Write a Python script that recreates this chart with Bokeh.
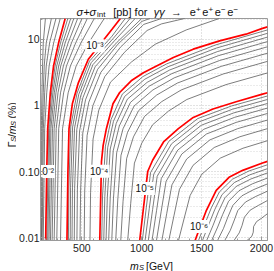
import math
from bokeh.plotting import figure
from bokeh.models import Range1d, FixedTicker
from bokeh.layouts import column, row
from bokeh.embed import file_html
from bokeh.resources import INLINE
from bokeh.core.properties import value

FONT = "Liberation Sans"

# ---------------- data ----------------
x_ticks = [500, 1000, 1500, 2000]
x_tick_labels = ["500", "1000", "1500", "2000"]
y_ticks = [0.01, 0.1, 1, 10]
y_tick_labels = ["0.01", "0.10", "1", "10"]

# red contours: 1e-2, 1e-3, 1e-4, 1e-5, 1e-6 pb   (m_S in GeV, Gamma/m in %)
red_m = [
    [198, 207, 215, 237, 264, 306, 361],
    [376, 384, 393, 421, 471, 554, 612, 683, 752, 822],
    [650, 664, 678, 705, 760, 816, 912, 1014, 1099, 1264, 1430, 1650, 1870, 2008, 2050],
    [983, 1050, 1091, 1182, 1306, 1430, 1595, 1788, 2008, 2050],
    [1446, 1457, 1540, 1622, 1733, 1843, 2008, 2050],
]
red_g = [
    [0.00904, 0.1, 0.445, 1.555, 3.98, 8.87, 20.7],
    [0.00904, 0.1, 0.445, 1.06, 2.2, 5.0, 6.8, 9.86, 14.2, 20.7],
    [0.00904, 0.141, 0.249, 0.445, 1.06, 1.57, 2.36, 3.12, 3.75, 5.31, 7.11, 9.49, 11.98, 14.66, 15.45],
    [0.00904, 0.1, 0.148, 0.28, 0.445, 0.659, 0.882, 1.137, 1.487, 1.555],
    [0.00904, 0.0103, 0.0259, 0.052, 0.0829, 0.1042, 0.1349, 0.1426],
]

# black contours 2..5 x 1e-2 (shared Gamma rows)
f0_g = [0.00904, 0.445, 1.555, 3.98, 8.87, 20.7]
f0_m = [
    [178, 190, 207, 227, 265, 320],
    [169, 179, 190, 203, 231, 284],
    [163, 170, 178, 186, 203, 246],
    [157, 162, 167, 172, 178, 196],
]
# black contours 2..9 x 1e-3 (shared Gamma rows)
f1_g = [0.00904, 0.445, 1.555, 3.98, 8.87, 20.7]
f1_m = [
    [322, 339, 386, 453, 557, 687],
    [291, 307, 348, 405, 493, 604],
    [269, 286, 322, 372, 449, 546],
    [252, 269, 301, 346, 414, 501],
    [238, 255, 284, 324, 386, 465],
    [226, 242, 270, 307, 361, 433],
    [216, 232, 258, 291, 341, 407],
    [207, 223, 247, 277, 322, 383],
]
# black contours 2..9 x 1e-4
f2_m = [
    [568, 573, 594, 642, 739, 915, 1112, 1372, 1647],
    [520, 524, 544, 593, 692, 855, 1045, 1165, 1358],
    [485, 490, 508, 558, 658, 822, 1017, 1165],
    [459, 463, 481, 531, 632, 802, 1002, 1069],
    [437, 440, 458, 509, 611, 792, 1000],
    [418, 422, 439, 490, 593, 777, 945],
    [403, 406, 423, 474, 578, 764, 903],
    [388, 392, 408, 460, 564, 752, 862],
]
f2_g = [
    [0.00904, 0.0478, 0.311, 0.852, 2.25, 4.56, 8.43, 13.9, 20.7],
    [0.00904, 0.0505, 0.351, 0.999, 2.74, 6.35, 13.64, 17.15, 20.7],
    [0.00904, 0.0525, 0.383, 1.117, 3.16, 7.59, 16.85, 20.7],
    [0.00904, 0.0541, 0.409, 1.219, 3.52, 8.48, 18.72, 20.7],
    [0.00904, 0.0555, 0.432, 1.310, 3.85, 8.96, 20.7],
    [0.00904, 0.0566, 0.452, 1.390, 4.15, 9.73, 20.7],
    [0.00904, 0.0577, 0.471, 1.465, 4.44, 10.42, 20.7],
    [0.00904, 0.0586, 0.488, 1.532, 4.69, 11.17, 20.7],
]
# black contours 2..9 x 1e-5
f3_m = [
    [883, 908, 939, 1000, 1091, 1226, 1376, 1704, 2050],
    [825, 844, 874, 931, 1023, 1167, 1330, 1680, 2050],
    [783, 800, 827, 882, 974, 1125, 1297, 1663, 2050],
    [750, 764, 791, 844, 936, 1093, 1272, 1650, 2050],
    [724, 737, 762, 813, 906, 1067, 1252, 1640, 2050],
    [702, 713, 737, 787, 880, 1045, 1234, 1631, 2050],
    [683, 692, 716, 764, 857, 1025, 1219, 1623, 2050],
    [666, 673, 697, 744, 838, 1009, 1206, 1616, 2050],
]
f3_g = [
    [0.00904, 0.0327, 0.134, 0.268, 0.510, 0.828, 1.229, 2.067, 3.107],
    [0.00904, 0.0352, 0.157, 0.335, 0.681, 1.143, 1.718, 2.992, 4.651],
    [0.00904, 0.0370, 0.176, 0.393, 0.835, 1.438, 2.179, 3.901, 6.186],
    [0.00904, 0.0385, 0.192, 0.444, 0.979, 1.716, 2.619, 4.788, 7.730],
    [0.00904, 0.0397, 0.206, 0.490, 1.113, 1.981, 3.035, 5.665, 9.262],
    [0.00904, 0.0408, 0.219, 0.534, 1.243, 2.236, 3.444, 6.525, 10.83],
    [0.00904, 0.0418, 0.231, 0.575, 1.365, 2.490, 3.850, 7.386, 12.36],
    [0.00904, 0.0427, 0.242, 0.612, 1.484, 2.728, 4.241, 8.226, 13.91],
]
# black contours 2..9 x 1e-6
f4_m = [
    [1307, 1355, 1404, 1501, 1656, 1845, 2050],
    [1226, 1270, 1315, 1428, 1605, 1819, 2050],
    [1168, 1209, 1252, 1375, 1569, 1801, 2050],
    [1123, 1162, 1203, 1334, 1540, 1788, 2050],
    [1086, 1124, 1163, 1301, 1518, 1776, 2050],
    [1055, 1091, 1129, 1273, 1498, 1767, 2050],
    [1028, 1063, 1100, 1249, 1482, 1758, 2050],
    [1005, 1038, 1074, 1227, 1467, 1751, 2050],
]
f4_g = [
    [0.00904, 0.0198, 0.0434, 0.0908, 0.1595, 0.2251, 0.2928],
    [0.00904, 0.0218, 0.0538, 0.1238, 0.2310, 0.3357, 0.4460],
    [0.00904, 0.0233, 0.0628, 0.1544, 0.3011, 0.4453, 0.6016],
    [0.00904, 0.0246, 0.0707, 0.1834, 0.3695, 0.5538, 0.7568],
    [0.00904, 0.0257, 0.0779, 0.2111, 0.4361, 0.6617, 0.9133],
    [0.00904, 0.0266, 0.0846, 0.2374, 0.5024, 0.7697, 1.0717],
    [0.00904, 0.0275, 0.0909, 0.2627, 0.5669, 0.8775, 1.2316],
    [0.00904, 0.0283, 0.0967, 0.2877, 0.6318, 0.9838, 1.3913],
]
# black contours 2..9 x 1e-7
f5_m = [
    [1879, 1919, 1931, 1934, 1959, 2000, 2050],
    [1770, 1814, 1837, 1857, 1905, 1972, 2050],
    [1693, 1739, 1770, 1802, 1866, 1952, 2050],
    [1633, 1682, 1718, 1760, 1836, 1936, 2050],
    [1584, 1634, 1676, 1725, 1812, 1924, 2050],
    [1542, 1594, 1639, 1695, 1790, 1913, 2050],
    [1507, 1559, 1609, 1670, 1773, 1904, 2050],
    [1474, 1528, 1581, 1648, 1757, 1895, 2050],
]
f5_g = [
    [0.00904, 0.01047, 0.01204, 0.01471, 0.01748, 0.01964, 0.02304],
    [0.00904, 0.01178, 0.01515, 0.02034, 0.02602, 0.03059, 0.03646],
    [0.00904, 0.01282, 0.01784, 0.02564, 0.03452, 0.04195, 0.05055],
    [0.00904, 0.01368, 0.02021, 0.03060, 0.04288, 0.05343, 0.06495],
    [0.00904, 0.01443, 0.02240, 0.03539, 0.05123, 0.06516, 0.07973],
    [0.00904, 0.01511, 0.02447, 0.04010, 0.05973, 0.07735, 0.09522],
    [0.00904, 0.01570, 0.02637, 0.04460, 0.06801, 0.08935, 0.1105],
    [0.00904, 0.01626, 0.02822, 0.04909, 0.07648, 0.1019, 0.1266],
]

# contour labels
label_text = ["10\u207b\u00b2", "10\u207b\u00b3", "10\u207b\u2074", "10\u207b\u2075", "10\u207b\u2076"]
label_m = [196, 609, 645, 1025, 1479]
label_g = [0.1, 7.98, 0.101, 0.0552, 0.0147]

# ---------------- build ----------------
black_xs, black_ys = [], []
for ms in f0_m:
    black_xs.append(ms); black_ys.append(f0_g)
for ms in f1_m:
    black_xs.append(ms); black_ys.append(f1_g)
for fam_m, fam_g in ((f2_m, f2_g), (f3_m, f3_g), (f4_m, f4_g), (f5_m, f5_g)):
    for ms, gs in zip(fam_m, fam_g):
        black_xs.append(ms); black_ys.append(gs)

TOTAL_W, TOTAL_H = 274, 271
TITLE_H, XLAB_H, YLAB_W = 18, 16, 16
MAIN_W = TOTAL_W - YLAB_W
MAIN_H = TOTAL_H - TITLE_H - XLAB_H

p = figure(width=MAIN_W, height=MAIN_H, x_range=Range1d(155, 2050), y_range=Range1d(0.00904, 20.7),
           y_axis_type="log", output_backend="svg", toolbar_location=None, title=None,
           min_border_left=38 - YLAB_W, min_border_right=7, min_border_top=0, min_border_bottom=15)
p.background_fill_color = "white"
p.border_fill_color = "white"
p.outline_line_color = "#9a9a9a"

x_minor = [v for v in range(200, 2001, 100)]
y_minor = [k * d for d in (0.01, 0.1, 1, 10) for k in range(2, 10) if k * d <= 20.7]
xt = FixedTicker(ticks=x_ticks, minor_ticks=x_minor)
yt = FixedTicker(ticks=y_ticks, minor_ticks=y_minor)
p.xaxis.ticker = xt
p.yaxis.ticker = yt
p.xgrid.ticker = xt
p.ygrid.ticker = yt
p.xaxis.major_label_overrides = dict(zip(x_ticks, x_tick_labels))
p.yaxis.major_label_overrides = dict(zip(y_ticks, y_tick_labels))

for ax in (p.xaxis[0], p.yaxis[0]):
    ax.axis_line_color = "#9a9a9a"
    ax.major_tick_line_color = "#9a9a9a"
    ax.minor_tick_line_color = "#9a9a9a"
    ax.major_tick_in = 4
    ax.major_tick_out = 0
    ax.minor_tick_in = 2
    ax.minor_tick_out = 0
    ax.major_label_text_font = FONT
    ax.major_label_text_font_size = "10.5px"
    ax.major_label_text_color = "#222222"
p.xaxis.major_label_standoff = 3
p.yaxis.major_label_standoff = 1

p.xgrid.grid_line_color = "#c4c4c4"
p.xgrid.grid_line_dash = "1 2"
p.ygrid.grid_line_color = "#c4c4c4"
p.ygrid.grid_line_dash = "1 2"
p.ygrid.minor_grid_line_color = "#d6d6d6"
p.ygrid.minor_grid_line_dash = "1 2"

p.multi_line(xs=black_xs, ys=black_ys, line_color="#454545", line_width=0.7)
p.multi_line(xs=red_m, ys=red_g, line_color="#ff0000", line_width=1.7)

p.text(x=label_m, y=label_g, text=label_text, text_font=value(FONT), text_font_size="10px",
       text_align="center", text_baseline="middle", text_color="#111111",
       background_fill_color="white", padding=1)


def strip(w, h):
    f = figure(width=w, height=h, x_range=Range1d(0, w), y_range=Range1d(0, h),
               x_axis_type=None, y_axis_type=None, output_backend="svg",
               toolbar_location=None, title=None, min_border=0)
    f.outline_line_color = None
    f.background_fill_color = "white"
    f.border_fill_color = "white"
    f.xgrid.visible = False
    f.ygrid.visible = False
    return f


def put(f, x, y, text, size="11px", style="normal", angle=0.0):
    f.text(x=[x], y=[y], text=[text], text_font=value(FONT), text_font_size=size,
           text_font_style=style, text_color="#111111", text_align="left",
           text_baseline="alphabetic", angle=angle)


# title strip: sigma+sigma_int [pb] for gamma gamma -> e+e+e-e-   (y measured from strip bottom)
t = strip(TOTAL_W, TITLE_H)
tb = TITLE_H - 11.5
put(t, 76, tb, "\u03c3+\u03c3", style="italic")
put(t, 96.4, tb - 2.2, "int", size="8px")
put(t, 112.7, tb, "[pb] for")
put(t, 153.3, tb, "\u03b3\u03b3", style="italic")
put(t, 170.5, tb, "\u2192")
for i, sign in enumerate(["+", "+", "\u2212", "\u2212"]):
    put(t, 189.3 + 12.5 * i, tb, "e")
    put(t, 195.6 + 12.5 * i, tb + 2.6, sign, size="8px")

# y-label strip: Gamma_S/m_S (%)
yl = strip(YLAB_W, MAIN_H)
a = math.pi / 2
yb = 11.5
def yy(ref_y):
    return TITLE_H + MAIN_H - ref_y
put(yl, yb, yy(155.5), "\u0393", size="10.5px", angle=a)
put(yl, yb + 1.2, yy(149.7), "S", size="7.5px", style="italic", angle=a)
put(yl, yb, yy(144.5), "/", size="10.5px", angle=a)
put(yl, yb, yy(141.5), "m", size="10.5px", style="italic", angle=a)
put(yl, yb + 1.2, yy(132.7), "S", size="7.5px", style="italic", angle=a)
put(yl, yb, yy(124.8), "(%)", size="10.5px", angle=a)

# x-label strip: m_S [GeV]
xl = strip(TOTAL_W, XLAB_H)
xb = TOTAL_H - 265
put(xl, 129.5, xb, "m", size="10.5px", style="italic")
put(xl, 138.4, xb - 1.8, "S", size="7.5px", style="italic")
put(xl, 145.5, xb, "[GeV]", size="10.5px")

layout = column(t, row(yl, p), xl)
open("out.html", "w").write(file_html(layout, INLINE))
